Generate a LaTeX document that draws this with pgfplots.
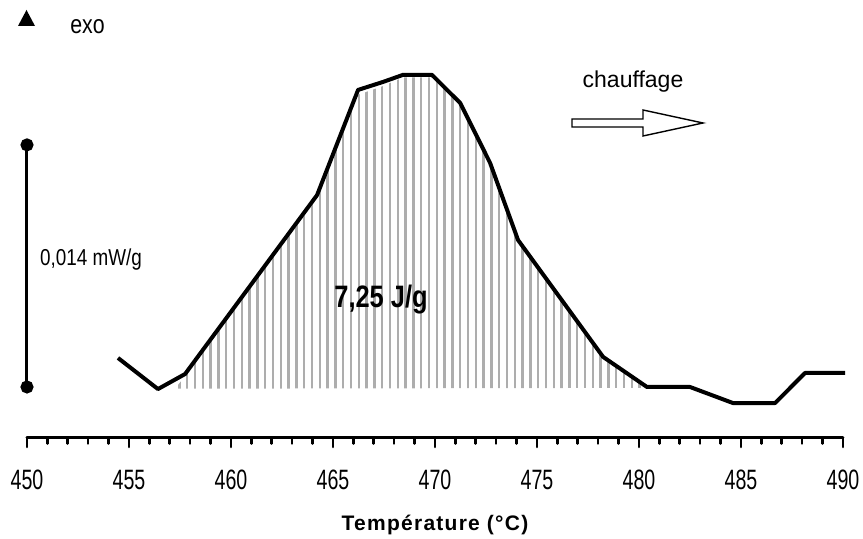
\documentclass[border=0pt]{standalone}
\usepackage{fontspec}
\setmainfont{Liberation Sans}[FakeStretch=0.82]
\newfontfamily\plainsans{Liberation Sans}
\newfontfamily\ticksans{Liberation Sans}[FakeStretch=0.7]
\usepackage{pgfplots}
\pgfplotsset{compat=1.18}
\usetikzlibrary{patterns.meta}
\begin{document}
\begin{tikzpicture}[x=1pt,y=1pt]
\useasboundingbox (-13.5,-50.5) rectangle (418,219);
\begin{axis}[
  at={(0pt,0pt)}, anchor=south west,
  scale only axis, width=408pt, height=219pt,
  xmin=450, xmax=490, ymin=-2.95, ymax=22.38,
  clip=false,
  axis x line=bottom, axis y line=none,
  axis line style={-, line width=1.5pt, line cap=round},
  xtick={450,455,...,490}, minor x tick num=4,
  tick align=outside,
  major tick length=4.5pt, minor tick length=2.8pt,
  every tick/.style={black, line width=1.3pt, line cap=round},
  /pgf/number format/assume math mode=true,
  xticklabel style={font=\ticksans\fontsize{14}{16}\selectfont},
  xticklabel shift=8pt,
  ytick=\empty,
]
% hatched area
\addplot[draw=none, pattern={Lines[angle=90, distance=3.9pt, line width=1.2pt]}, pattern color=black!32]
  coordinates {(457.25,-0.1) (457.75,0.62) (464.22,10.9) (466.23,16.9) (467.45,17.4) (468.43,17.9) (469.85,17.9) (471.23,16.3) (472.70,12.85) (474.07,8.4) (478.24,1.65) (480.39,-0.05)} -- cycle;
% curve
\addplot[black, line width=2pt, line join=round] coordinates {
(454.46,1.68) (456.42,-0.12) (457.75,0.75) (464.22,11.10) (466.23,17.18) (467.45,17.64) (468.43,18.05) (469.85,18.05) (471.23,16.43) (472.70,12.96) (474.07,8.50) (478.24,1.74) (480.39,0) (482.50,0) (484.61,-0.93) (486.67,-0.93) (488.14,0.81) (490.10,0.81)};
% scale bar
\addplot[black, line width=1.5pt, mark=*, mark size=2.5pt] coordinates {(450,0) (450,14)};
\end{axis}
% annotations (pt coordinates, origin at axis lower-left)
\fill (-4.5,206) -- (4,206) -- (-0.25,214) -- cycle;
\node at (30.25,205.75) {\fontsize{13}{15}\selectfont exo};
\node at (32,89) {\fontsize{11.5}{14}\selectfont 0,014 mW/g};
\node at (177,69) {\fontsize{15.5}{18}\selectfont\bfseries 7,25 J/g};
\node at (303,178) {\plainsans\fontsize{11.5}{14}\selectfont chauffage};
\draw[line width=0.7pt, fill=white, line join=miter] (272.5,159.5) -- (308,159.5) -- (308,164) -- (338,157.5) -- (308,151) -- (308,155.5) -- (272.5,155.5) -- cycle;
\node at (204,-43.25) {\fontspec{Liberation Sans}[LetterSpace=6]\fontsize{10.5}{13}\selectfont\bfseries Température (°C)};
\end{tikzpicture}
\end{document}
